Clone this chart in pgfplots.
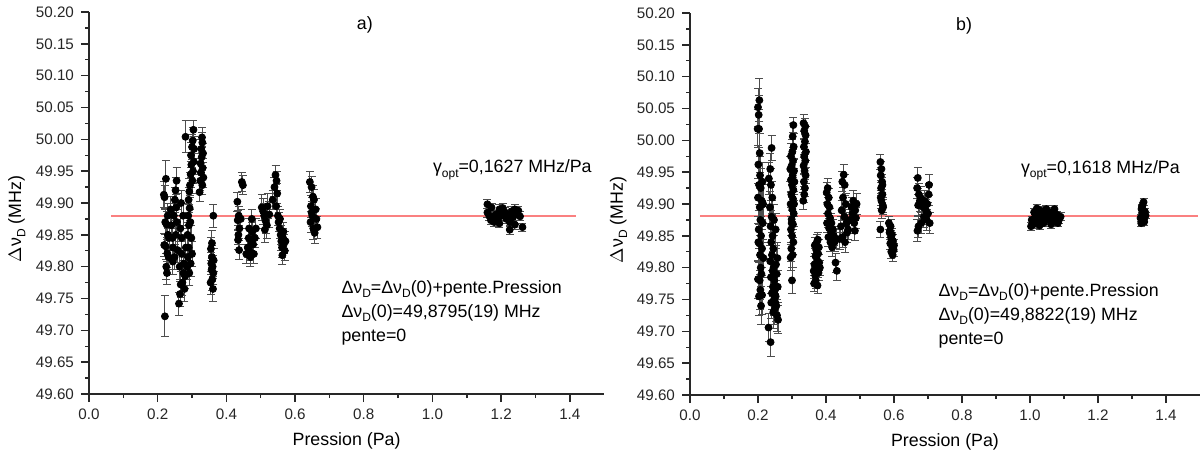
\documentclass[border=0pt]{standalone}
\usepackage{fontspec}
\setmainfont{Liberation Sans}
\usepackage{pgfplots}
\usepackage{pgfplotstable}
\pgfplotsset{compat=1.18}
\definecolor{fitred}{RGB}{250,128,128}
\definecolor{axgray}{RGB}{40,40,40}
\definecolor{errgray}{RGB}{77,77,77}
\newcommand\sub[1]{\raisebox{-0.45ex}{\fontsize{6}{7}\selectfont #1}}

\pgfplotstableread{
x y e
0.218 49.913 0.02
0.220 49.909 0.018
0.224 49.938 0.028
0.222 49.870 0.02
0.226 49.866 0.02
0.219 49.834 0.018
0.223 49.832 0.02
0.228 49.821 0.022
0.225 49.800 0.02
0.221 49.722 0.032
0.230 49.850 0.02
0.229 49.880 0.02
0.232 49.815 0.02
0.227 49.790 0.018
0.233 49.845 0.02
0.238 49.890 0.02
0.240 49.865 0.02
0.243 49.845 0.02
0.245 49.830 0.02
0.247 49.880 0.02
0.250 49.905 0.02
0.252 49.920 0.02
0.255 49.935 0.02
0.256 49.870 0.02
0.253 49.850 0.02
0.249 49.815 0.02
0.244 49.808 0.02
0.258 49.826 0.02
0.254 49.893 0.02
0.262 49.742 0.018
0.265 49.757 0.02
0.267 49.772 0.02
0.264 49.800 0.02
0.270 49.820 0.02
0.272 49.775 0.02
0.275 49.790 0.02
0.278 49.765 0.02
0.280 49.785 0.02
0.276 49.805 0.02
0.282 49.830 0.02
0.270 49.845 0.02
0.266 49.860 0.02
0.274 49.880 0.02
0.268 49.900 0.02
0.286 49.800 0.02
0.288 49.815 0.02
0.290 49.830 0.02
0.287 49.850 0.02
0.291 49.865 0.02
0.289 49.880 0.02
0.293 49.892 0.02
0.290 49.905 0.02
0.292 49.918 0.02
0.294 49.928 0.02
0.296 49.945 0.02
0.298 49.960 0.02
0.297 49.975 0.02
0.300 49.988 0.02
0.302 49.998 0.02
0.304 50.015 0.015
0.281 50.004 0.025
0.303 49.950 0.02
0.301 49.935 0.02
0.295 49.870 0.02
0.298 49.845 0.02
0.300 49.820 0.02
0.292 49.790 0.02
0.296 49.805 0.02
0.305 49.965 0.02
0.306 49.985 0.02
0.322 49.917 0.015
0.324 49.935 0.015
0.326 49.948 0.015
0.325 49.962 0.015
0.328 49.972 0.015
0.327 49.985 0.015
0.330 49.995 0.015
0.329 50.003 0.015
0.332 49.978 0.015
0.331 49.955 0.015
0.333 49.940 0.015
0.330 49.928 0.015
0.362 49.880 0.018
0.355 49.828 0.018
0.358 49.815 0.018
0.356 49.805 0.018
0.360 49.800 0.018
0.357 49.795 0.018
0.362 49.790 0.018
0.359 49.780 0.018
0.354 49.775 0.018
0.361 49.765 0.02
0.363 49.810 0.018
0.358 49.837 0.02
0.432 49.902 0.015
0.436 49.880 0.015
0.433 49.873 0.015
0.438 49.860 0.015
0.435 49.850 0.015
0.434 49.842 0.015
0.437 49.826 0.015
0.445 49.933 0.015
0.448 49.928 0.015
0.442 49.875 0.015
0.458 49.820 0.015
0.462 49.830 0.015
0.465 49.845 0.015
0.468 49.825 0.015
0.470 49.815 0.015
0.472 49.840 0.015
0.475 49.855 0.015
0.478 49.835 0.015
0.480 49.820 0.015
0.483 49.845 0.015
0.466 49.860 0.015
0.474 49.875 0.015
0.486 49.860 0.015
0.503 49.893 0.02
0.507 49.887 0.02
0.510 49.880 0.02
0.514 49.872 0.02
0.518 49.865 0.02
0.512 49.858 0.02
0.520 49.895 0.02
0.525 49.882 0.02
0.535 49.905 0.015
0.540 49.925 0.015
0.543 49.944 0.015
0.546 49.935 0.015
0.548 49.915 0.015
0.545 49.895 0.015
0.550 49.880 0.015
0.552 49.870 0.015
0.555 49.860 0.015
0.558 49.850 0.015
0.560 49.840 0.015
0.562 49.830 0.015
0.565 49.845 0.015
0.567 49.835 0.015
0.570 49.825 0.015
0.566 49.855 0.015
0.572 49.840 0.015
0.556 49.875 0.015
0.563 49.818 0.015
0.643 49.933 0.017
0.648 49.925 0.017
0.652 49.910 0.017
0.646 49.895 0.017
0.655 49.905 0.017
0.650 49.880 0.017
0.645 49.870 0.017
0.653 49.860 0.017
0.657 49.853 0.017
0.660 49.890 0.017
0.662 49.875 0.017
0.665 49.862 0.017
0.648 49.885 0.017
1.160 49.885 0.007
1.165 49.880 0.007
1.170 49.873 0.007
1.175 49.878 0.007
1.180 49.870 0.007
1.185 49.882 0.007
1.190 49.875 0.007
1.195 49.868 0.007
1.200 49.880 0.007
1.205 49.892 0.007
1.210 49.886 0.007
1.215 49.875 0.007
1.220 49.880 0.007
1.225 49.870 0.007
1.230 49.887 0.007
1.235 49.878 0.007
1.240 49.890 0.007
1.245 49.884 0.007
1.250 49.888 0.007
1.255 49.879 0.007
1.160 49.898 0.007
1.225 49.858 0.007
1.262 49.862 0.006
1.240 49.866 0.007
1.172 49.893 0.007
1.195 49.890 0.007
}\dataA

\pgfplotstableread{
x y e
0.200 50.052 0.03
0.204 50.063 0.034
0.202 50.040 0.03
0.199 50.018 0.03
0.203 50.018 0.03
0.205 49.980 0.03
0.201 49.962 0.03
0.206 49.945 0.03
0.203 49.930 0.03
0.208 49.925 0.03
0.200 49.910 0.03
0.205 49.895 0.03
0.207 49.875 0.03
0.202 49.860 0.03
0.209 49.850 0.03
0.204 49.838 0.03
0.201 49.840 0.03
0.206 49.820 0.03
0.208 49.800 0.03
0.200 49.782 0.03
0.205 49.780 0.03
0.210 49.790 0.03
0.207 49.765 0.03
0.203 49.755 0.03
0.209 49.740 0.03
0.212 49.757 0.03
0.211 49.905 0.03
0.213 49.935 0.03
0.215 49.900 0.03
0.214 49.870 0.03
0.212 49.830 0.03
0.216 49.815 0.03
0.232 49.940 0.025
0.236 49.955 0.025
0.240 49.988 0.02
0.238 49.930 0.025
0.242 49.910 0.025
0.235 49.895 0.025
0.240 49.880 0.025
0.237 49.865 0.025
0.243 49.850 0.025
0.239 49.840 0.025
0.245 49.830 0.025
0.241 49.820 0.025
0.236 49.810 0.025
0.246 49.800 0.025
0.243 49.795 0.025
0.238 49.785 0.025
0.248 49.780 0.025
0.244 49.770 0.025
0.250 49.765 0.025
0.241 49.760 0.025
0.252 49.755 0.025
0.247 49.750 0.025
0.239 49.745 0.025
0.254 49.740 0.025
0.249 49.735 0.025
0.245 49.730 0.025
0.256 49.725 0.025
0.251 49.745 0.025
0.258 49.770 0.025
0.255 49.790 0.025
0.257 49.815 0.025
0.253 49.805 0.025
0.231 49.706 0.022
0.237 49.683 0.022
0.259 49.718 0.022
0.252 49.860 0.025
0.247 49.875 0.025
0.300 49.780 0.02
0.296 49.816 0.02
0.302 49.820 0.02
0.298 49.830 0.02
0.304 49.840 0.02
0.300 49.850 0.02
0.297 49.860 0.02
0.303 49.868 0.02
0.299 49.876 0.02
0.305 49.885 0.02
0.301 49.892 0.02
0.296 49.900 0.02
0.303 49.908 0.02
0.298 49.915 0.02
0.304 49.922 0.02
0.300 49.930 0.02
0.297 49.938 0.02
0.302 49.945 0.02
0.306 49.952 0.02
0.299 49.960 0.02
0.303 49.968 0.02
0.297 49.975 0.02
0.301 49.982 0.02
0.305 49.990 0.02
0.302 50.006 0.02
0.304 50.024 0.012
0.299 49.870 0.02
0.306 49.900 0.02
0.295 49.955 0.02
0.307 49.935 0.02
0.333 49.905 0.013
0.336 49.915 0.013
0.338 49.925 0.013
0.335 49.935 0.013
0.340 49.945 0.013
0.337 49.952 0.013
0.334 49.960 0.013
0.339 49.968 0.013
0.336 49.975 0.013
0.341 49.982 0.013
0.335 49.990 0.013
0.338 49.998 0.013
0.340 50.008 0.013
0.336 50.015 0.013
0.339 50.022 0.013
0.334 50.027 0.013
0.365 49.775 0.012
0.370 49.780 0.012
0.375 49.772 0.012
0.368 49.788 0.012
0.378 49.792 0.012
0.372 49.798 0.012
0.366 49.805 0.012
0.380 49.808 0.012
0.374 49.812 0.012
0.369 49.818 0.012
0.377 49.822 0.012
0.371 49.828 0.012
0.367 49.835 0.012
0.379 49.832 0.012
0.373 49.840 0.012
0.376 49.844 0.012
0.382 49.800 0.012
0.364 49.795 0.012
0.402 49.918 0.015
0.405 49.925 0.015
0.408 49.910 0.015
0.404 49.900 0.015
0.410 49.895 0.015
0.406 49.885 0.015
0.412 49.878 0.015
0.403 49.870 0.015
0.409 49.862 0.015
0.415 49.855 0.015
0.407 49.848 0.015
0.413 49.840 0.015
0.418 49.832 0.015
0.420 49.860 0.015
0.416 49.870 0.015
0.423 49.850 0.015
0.425 49.840 0.015
0.428 49.808 0.015
0.432 49.795 0.015
0.430 49.845 0.015
0.448 49.935 0.016
0.452 49.946 0.016
0.455 49.930 0.016
0.450 49.910 0.016
0.458 49.900 0.016
0.446 49.890 0.016
0.454 49.880 0.016
0.460 49.870 0.016
0.444 49.865 0.016
0.462 49.855 0.016
0.449 49.848 0.016
0.456 49.840 0.016
0.465 49.860 0.016
0.470 49.875 0.016
0.475 49.895 0.016
0.478 49.885 0.016
0.480 49.905 0.016
0.483 49.870 0.016
0.486 49.890 0.016
0.488 49.878 0.016
0.485 49.858 0.016
0.440 49.845 0.016
0.490 49.900 0.016
0.560 49.966 0.012
0.563 49.955 0.012
0.561 49.945 0.012
0.565 49.935 0.012
0.562 49.925 0.012
0.566 49.915 0.012
0.563 49.905 0.012
0.567 49.898 0.012
0.564 49.890 0.012
0.568 49.895 0.012
0.561 49.910 0.012
0.566 49.930 0.012
0.560 49.860 0.012
0.585 49.870 0.01
0.590 49.865 0.01
0.588 49.858 0.01
0.594 49.852 0.01
0.591 49.848 0.01
0.597 49.842 0.01
0.589 49.838 0.01
0.595 49.832 0.01
0.599 49.828 0.01
0.592 49.825 0.01
0.596 49.820 0.01
0.600 49.835 0.01
0.593 49.845 0.01
0.587 49.855 0.01
0.670 49.941 0.017
0.668 49.925 0.017
0.673 49.915 0.017
0.676 49.905 0.017
0.671 49.898 0.017
0.678 49.910 0.017
0.682 49.900 0.017
0.686 49.895 0.017
0.690 49.905 0.017
0.694 49.890 0.017
0.698 49.900 0.017
0.702 49.915 0.017
0.700 49.885 0.017
0.696 49.875 0.017
0.688 49.880 0.017
0.680 49.870 0.017
0.672 49.865 0.017
0.705 49.870 0.017
0.669 49.858 0.017
0.703 49.930 0.017
1.005 49.875 0.006
1.010 49.868 0.006
1.015 49.880 0.006
1.020 49.872 0.006
1.025 49.885 0.006
1.030 49.890 0.006
1.035 49.878 0.006
1.040 49.870 0.006
1.045 49.882 0.006
1.050 49.876 0.006
1.055 49.888 0.006
1.060 49.880 0.006
1.065 49.872 0.006
1.070 49.886 0.006
1.075 49.878 0.006
1.080 49.883 0.006
1.085 49.875 0.006
1.090 49.880 0.006
1.012 49.887 0.006
1.028 49.866 0.006
1.048 49.892 0.006
1.062 49.868 0.006
1.072 49.892 0.006
1.082 49.870 0.006
1.003 49.865 0.006
1.038 49.886 0.006
1.020 49.893 0.006
1.058 49.876 0.006
1.325 49.878 0.005
1.330 49.885 0.005
1.328 49.892 0.005
1.333 49.880 0.005
1.336 49.872 0.005
1.331 49.898 0.005
1.334 49.903 0.005
1.338 49.888 0.005
1.327 49.870 0.005
1.340 49.882 0.005
1.335 49.876 0.005
1.329 49.895 0.005
}\dataB

\pgfplotsset{
  geomA/.style={scale only axis, anchor=south west, height=191pt,
    xmin=0, xmax=1.5, ymin=49.6, ymax=50.2, at={(44.5pt,31.5pt)}, width=257.6pt},
  geomB/.style={scale only axis, anchor=south west, height=191pt,
    xmin=0, xmax=1.5, ymin=49.6, ymax=50.2, at={(345pt,31pt)}, width=255pt},
  panel/.style={
    axis x line*=bottom, axis y line*=left,
    axis line style={-, axgray, line width=0.8pt},
    tick align=outside,
    major tick length=4pt, minor tick length=2pt,
    tick style={axgray, line width=0.7pt},
    xtick={0,0.2,...,1.41}, minor x tick num=1,
    ytick={49.6,49.65,...,50.21}, minor y tick num=1,
    xticklabel style={/pgf/number format/.cd, fixed, fixed zerofill, precision=1, assume math mode=true},
    yticklabel style={/pgf/number format/.cd, fixed, fixed zerofill, precision=2, assume math mode=true},
    ticklabel style={font=\fontsize{7.6}{9}\selectfont, text=black!85},
    label style={font=\fontsize{8.9}{10}\selectfont},
    xlabel={Pression (Pa)},
    xlabel style={at={(axis description cs:0.5,0)}, anchor=center, yshift=-23.5pt},
    ylabel={$\Delta$ν\sub{D} (MHz)},
    ylabel style={at={(axis description cs:-0.14,0.458)}, anchor=center, rotate=0},
  },
  pts/.style={only marks, mark=*, mark size=1.75pt, black,
    error bars/.cd, y dir=both, y explicit,
    error bar style={errgray, line width=0.5pt},
    error mark options={rotate=90, mark size=2pt, errgray, line width=0.5pt}},
  fitline/.style={draw=fitred, color=fitred, line width=0.8pt, no marks, forget plot},
}

\begin{document}
\begin{tikzpicture}
\path[use as bounding box] (0,0) rectangle (600pt,228.5pt);
% panel a
\begin{axis}[geomA, panel]
\addplot[fitline] coordinates {(0.064,49.8795) (1.417,49.8795)};
\addplot[pts] table[x=x, y=y, y error=e]{\dataA};
\node[font=\fontsize{8.9}{10}\selectfont] at (axis cs:0.803,50.18) {a)};
\node[anchor=west, font=\fontsize{8.9}{10}\selectfont] at (axis cs:0.981,49.952) {γ\sub{opt}=0,1627 MHz/Pa};
\node[anchor=north west, align=left, inner sep=0pt, font=\fontsize{8.9}{12}\selectfont] at (axis cs:0.734,49.779)
  {Δν\sub{D}=Δν\sub{D}(0)+pente.Pression\\ Δν\sub{D}(0)=49,8795(19) MHz\\ pente=0};
\end{axis}
% panel b
\begin{axis}[geomB, panel]
\addplot[fitline, line width=1.1pt] coordinates {(0.03,49.8817) (1.495,49.8817)};
\addplot[pts] table[x=x, y=y, y error=e]{\dataB};
\node[font=\fontsize{8.9}{10}\selectfont] at (axis cs:0.806,50.18) {b)};
\node[anchor=west, font=\fontsize{8.9}{10}\selectfont] at (axis cs:0.953,49.953) {γ\sub{opt}=0,1618 MHz/Pa};
\node[anchor=north west, align=left, inner sep=0pt, font=\fontsize{8.9}{12}\selectfont] at (axis cs:0.730,49.776)
  {Δν\sub{D}=Δν\sub{D}(0)+pente.Pression\\ Δν\sub{D}(0)=49,8822(19) MHz\\ pente=0};
\end{axis}
\end{tikzpicture}
\end{document}
